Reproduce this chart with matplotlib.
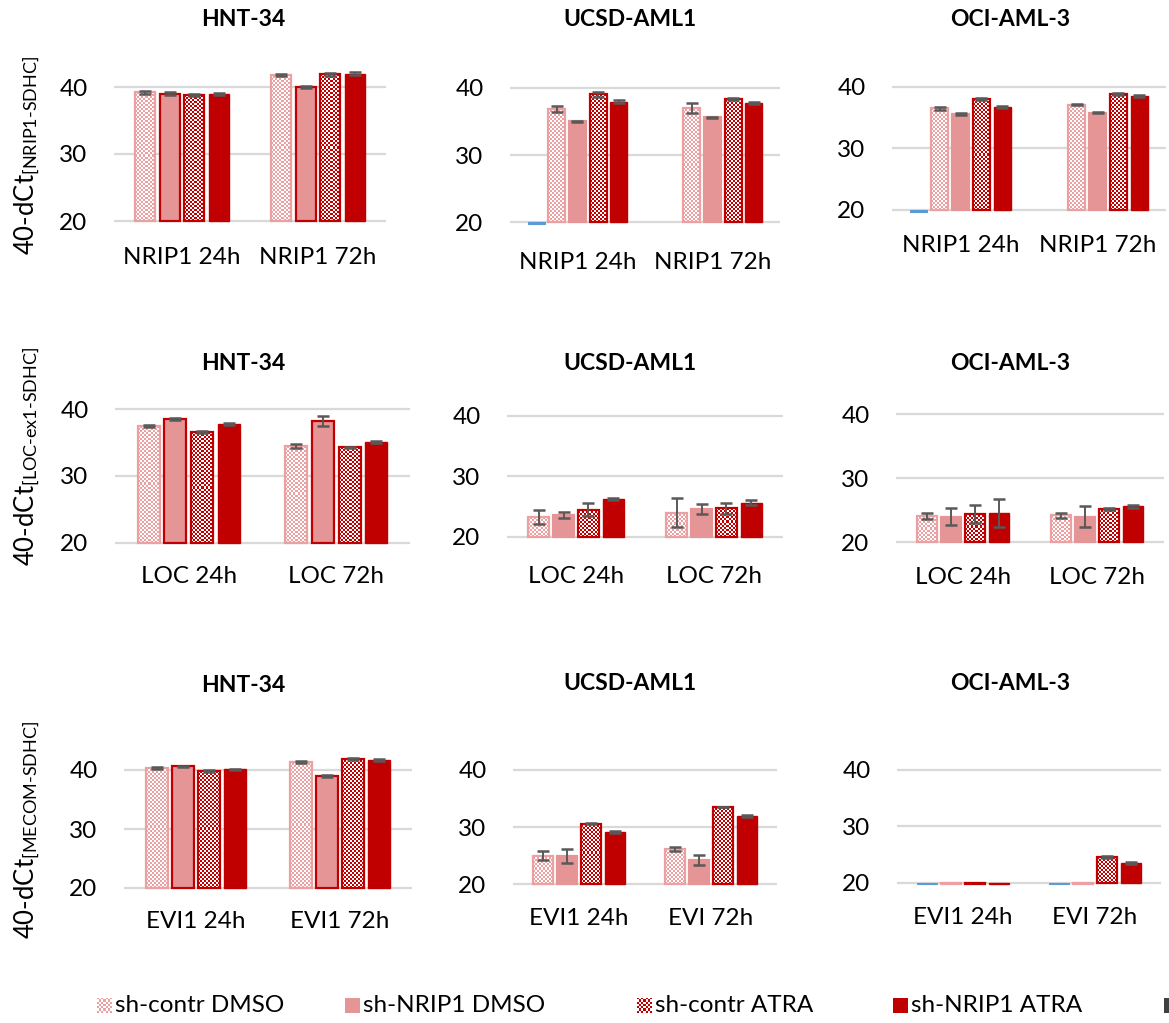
import numpy as np
import matplotlib
matplotlib.use("Agg")
import matplotlib.pyplot as plt
from matplotlib.colors import to_rgb
from matplotlib.patches import Rectangle

plt.rcParams["font.family"] = ["Lato", "DejaVu Sans"]
plt.rcParams["mathtext.fontset"] = "custom"
plt.rcParams["mathtext.rm"] = "Lato"
plt.rcParams["mathtext.it"] = "Lato:italic"
plt.rcParams["mathtext.bf"] = "Lato:bold"

W, H, DPI = 1169, 1023, 100

# ---------------------------------------------------------------- data
series_labels = ["sh-contr DMSO", "sh-NRIP1 DMSO", "sh-contr ATRA", "sh-NRIP1 ATRA"]

nrip1_categories = ["NRIP1 24h", "NRIP1 72h"]
loc_categories = ["LOC 24h", "LOC 72h"]
evi_hnt_categories = ["EVI1 24h", "EVI1 72h"]
evi_categories = ["EVI1 24h", "EVI 72h"]

cell_lines = ["HNT-34", "UCSD-AML1", "OCI-AML-3"]

# rows: sh-contr DMSO, sh-NRIP1 DMSO, sh-contr ATRA, sh-NRIP1 ATRA ; columns: 24h, 72h
hnt_nrip1_mean = [[39.2, 41.85], [39.0, 40.0], [38.8, 41.9], [38.9, 42.0]]
hnt_nrip1_sd = [[0.2, 0.15], [0.2, 0.15], [0.15, 0.2], [0.15, 0.2]]
ucsd_nrip1_mean = [[36.8, 37.0], [35.0, 35.6], [39.0, 38.3], [37.9, 37.7]]
ucsd_nrip1_sd = [[0.45, 0.7], [0.1, 0.1], [0.35, 0.1], [0.2, 0.15]]
ucsd_nrip1_blank = [19.8, np.nan]
oci_nrip1_mean = [[36.5, 37.1], [35.6, 35.8], [38.0, 38.8], [36.7, 38.5]]
oci_nrip1_sd = [[0.25, 0.1], [0.15, 0.1], [0.15, 0.15], [0.1, 0.15]]
oci_nrip1_blank = [19.7, np.nan]

hnt_loc_mean = [[37.4, 34.45], [38.45, 38.2], [36.55, 34.25], [37.75, 35.1]]
hnt_loc_sd = [[0.15, 0.27], [0.15, 0.7], [0.2, 0.1], [0.1, 0.15]]
ucsd_loc_mean = [[23.3, 24.0], [23.55, 24.6], [24.5, 24.7], [26.25, 25.65]]
ucsd_loc_sd = [[1.2, 2.4], [0.5, 0.85], [1.05, 0.9], [0.2, 0.4]]
oci_loc_mean = [[24.1, 24.25], [24.0, 24.0], [24.4, 25.2], [24.6, 25.6]]
oci_loc_sd = [[0.4, 0.4], [1.3, 1.65], [1.35, 0.1], [2.15, 0.2]]

hnt_evi_mean = [[40.4, 41.4], [40.6, 39.0], [39.8, 41.9], [40.1, 41.7]]
hnt_evi_sd = [[0.15, 0.15], [0.15, 0.15], [0.15, 0.15], [0.15, 0.15]]
ucsd_evi_mean = [[25.0, 26.2], [24.95, 24.25], [30.6, 33.5], [29.1, 32.0]]
ucsd_evi_sd = [[0.8, 0.4], [1.25, 0.9], [0.1, 0.05], [0.15, 0.2]]
# OCI-AML-3 EVI1: no sh-NRIP1 DMSO series in this panel
oci_evi_mean = [[19.8, 19.8], [np.nan, np.nan], [19.8, 24.5], [19.8, 23.5]]
oci_evi_sd = [[0.0, 0.0], [0.0, 0.0], [0.0, 0.2], [0.0, 0.2]]
oci_evi_blank = [19.7, 19.7]

# ---------------------------------------------------------------- styles
PINK_LIGHT = "#EBA0A2"
PINK = "#E69597"
RED = "#C00000"
BLUE = "#5B9BD5"
GRID = "#D9D9D9"
ERR = "#595959"

FS_TICK = 17.5
FS_CAT = 17.5
FS_TITLE = 16.5
FS_LEG = 17.5
FS_YLAB = 18.5

fig = plt.figure(figsize=(W / DPI, H / DPI), dpi=DPI)


def px_axes(left, right, y20, y40, ylo=19.0, yhi=45.0):
    ppu = (y20 - y40) / 20.0
    bottom_px = y20 + (20 - ylo) * ppu
    top_px = y40 - (yhi - 40) * ppu
    ax = fig.add_axes([left / W, 1 - bottom_px / H, (right - left) / W,
                       (bottom_px - top_px) / H])
    ax.set_xlim(-0.5, 1.5)
    ax.set_ylim(ylo, yhi)
    ax.set_autoscale_on(False)
    return ax


def checker_fill(ax, bar, color, cell_px=2.0):
    x0, y0 = bar.get_x(), bar.get_y()
    w, h = bar.get_width(), bar.get_height()
    ylo, yhi = min(y0, y0 + h), max(y0, y0 + h)
    (px0, py0), (px1, py1) = ax.transData.transform([(x0, ylo), (x0 + w, yhi)])
    nx = max(1, int(round(abs(px1 - px0) / cell_px)))
    ny = max(1, int(round(abs(py1 - py0) / cell_px)))
    ii, jj = np.indices((ny, nx))
    rgba = np.ones((ny, nx, 4))
    rgba[(ii + jj) % 2 == 0, :3] = to_rgb(color)
    ax.imshow(rgba, extent=(x0, x0 + w, ylo, yhi), origin="lower",
              interpolation="nearest", aspect="auto", zorder=2.5)


def draw_panel(ax, categories, mean, sd, blank=None, hnt=False,
               present=(0, 1, 2, 3), label_offset_px=36):
    order = []
    if blank is not None:
        order.append("blank")
    order += list(present)
    n = len(order)
    step = 0.18 if n == 4 else 0.153
    bw = step * 0.83
    x = np.arange(len(categories))
    for k, key in enumerate(order):
        xs = x + (k - (n - 1) / 2) * step
        if key == "blank":
            vals = np.asarray(blank, float)
            ax.bar(xs, vals - 20, bottom=20, width=bw, color=BLUE,
                   edgecolor=BLUE, linewidth=0.8, zorder=3)
            continue
        vals = np.asarray(mean[key], float)
        errs = np.asarray(sd[key], float)
        if key == 0:
            bars = ax.bar(xs, vals - 20, bottom=20, width=bw, facecolor="none",
                          edgecolor=PINK_LIGHT, linewidth=1.6, zorder=3)
            for b in bars:
                if np.isfinite(b.get_height()):
                    checker_fill(ax, b, PINK_LIGHT)
        elif key == 1:
            ax.bar(xs, vals - 20, bottom=20, width=bw, color=PINK,
                   edgecolor=RED if hnt else PINK, linewidth=1.6, zorder=3)
        elif key == 2:
            bars = ax.bar(xs, vals - 20, bottom=20, width=bw, facecolor="none",
                          edgecolor=RED, linewidth=1.6, zorder=3)
            for b in bars:
                if np.isfinite(b.get_height()):
                    checker_fill(ax, b, RED)
        else:
            ax.bar(xs, vals - 20, bottom=20, width=bw, color=RED,
                   edgecolor=RED, linewidth=1.0, zorder=3)
        ok = np.isfinite(vals) & (errs > 0)
        if ok.any():
            ax.errorbar(xs[ok], vals[ok], yerr=errs[ok], fmt="none",
                        ecolor=ERR, elinewidth=1.4, capsize=4.2,
                        capthick=1.8, zorder=4)

    ax.set_yticks([20, 30, 40])
    ax.yaxis.grid(True, color=GRID, linewidth=1.6, zorder=0)
    ax.set_axisbelow(True)
    ax.tick_params(axis="y", length=0, pad=19, labelsize=FS_TICK)
    ax.set_xticks([])
    for s in ax.spines.values():
        s.set_visible(False)
    for xi, cat in zip(x, categories):
        ax.annotate(cat, xy=(xi, 20), xycoords="data",
                    xytext=(0, -label_offset_px * 0.72), textcoords="offset points",
                    ha="center", va="center", fontsize=FS_CAT)


# ---------------------------------------------------------------- panels
# (left, right, y20, y40) in pixels
ax = px_axes(114, 386, 221.0, 87.0)
draw_panel(ax, nrip1_categories, hnt_nrip1_mean, hnt_nrip1_sd, hnt=True, label_offset_px=37)
ax = px_axes(510, 780, 222.3, 87.7)
draw_panel(ax, nrip1_categories, ucsd_nrip1_mean, ucsd_nrip1_sd, blank=ucsd_nrip1_blank, label_offset_px=40)
ax = px_axes(892, 1166, 210.0, 86.7)
draw_panel(ax, nrip1_categories, oci_nrip1_mean, oci_nrip1_sd, blank=oci_nrip1_blank, label_offset_px=35)

ax = px_axes(115, 410, 542.7, 409.0)
draw_panel(ax, loc_categories, hnt_loc_mean, hnt_loc_sd, hnt=True, label_offset_px=34)
ax = px_axes(507, 783, 536.7, 416.0)
draw_panel(ax, loc_categories, ucsd_loc_mean, ucsd_loc_sd, label_offset_px=40)
ax = px_axes(896, 1164, 542.3, 414.3)
draw_panel(ax, loc_categories, oci_loc_mean, oci_loc_sd, label_offset_px=35)

ax = px_axes(124, 412, 888.0, 770.0)
draw_panel(ax, evi_hnt_categories, hnt_evi_mean, hnt_evi_sd, hnt=True, label_offset_px=34)
ax = px_axes(513, 777, 884.3, 770.0)
draw_panel(ax, evi_categories, ucsd_evi_mean, ucsd_evi_sd, label_offset_px=34)
ax = px_axes(897, 1161, 882.7, 770.0)
draw_panel(ax, evi_categories, oci_evi_mean, oci_evi_sd, blank=oci_evi_blank,
           present=(0, 2, 3), label_offset_px=35)

# ---------------------------------------------------------------- titles
title_pos = [
    [(243, 20), (630, 20), (1010, 20)],
    [(243, 364), (630, 364), (1010, 364)],
    [(243, 686), (630, 683), (1010, 683)],
]
for row in title_pos:
    for name, (tx, ty) in zip(cell_lines, row):
        fig.text(tx / W, 1 - ty / H, name, ha="center", va="center",
                 fontsize=FS_TITLE, fontweight="bold")

ylabels = [
    (r"40-dCt$_{\text{[NRIP1-SDHC]}}$", 155),
    (r"40-dCt$_{\text{[LOC-ex1-SDHC]}}$", 456),
    (r"40-dCt$_{\text{[MECOM-SDHC]}}$", 830),
]
for txt, cy in ylabels:
    fig.text(27 / W, 1 - cy / H, txt, rotation=90, ha="center", va="center",
             fontsize=FS_YLAB)

# ---------------------------------------------------------------- legend
legend_y = 1005
legend_items = [(97, 115, 0), (345, 363, 1), (637, 655, 2), (893, 911, 3)]
pw, ph = 15, 15
for px, tx, key in legend_items:
    if key in (0, 2):
        col = PINK_LIGHT if key == 0 else RED
        nx, ny = 7, 7
        ii, jj = np.indices((ny, nx))
        rgba = np.ones((ny, nx, 4))
        rgba[(ii + jj) % 2 == 0, :3] = to_rgb(col)
        iax = fig.add_axes([px / W, 1 - (legend_y + ph / 2) / H, pw / W, ph / H])
        iax.imshow(rgba, interpolation="nearest", aspect="auto")
        iax.set_axis_off()
    else:
        col = PINK if key == 1 else RED
        fig.patches.append(Rectangle((px / W, 1 - (legend_y + ph / 2) / H), pw / W, ph / H,
                                     transform=fig.transFigure, facecolor=col,
                                     edgecolor="none"))
    fig.text(tx / W, 1 - legend_y / H, series_labels[key], ha="left", va="center",
             fontsize=FS_LEG)
fig.patches.append(Rectangle((1164 / W, 1 - (legend_y + ph / 2) / H), 15 / W, ph / H,
                             transform=fig.transFigure, facecolor="#404040",
                             edgecolor="none"))

fig.savefig("out.png", dpi=DPI)
